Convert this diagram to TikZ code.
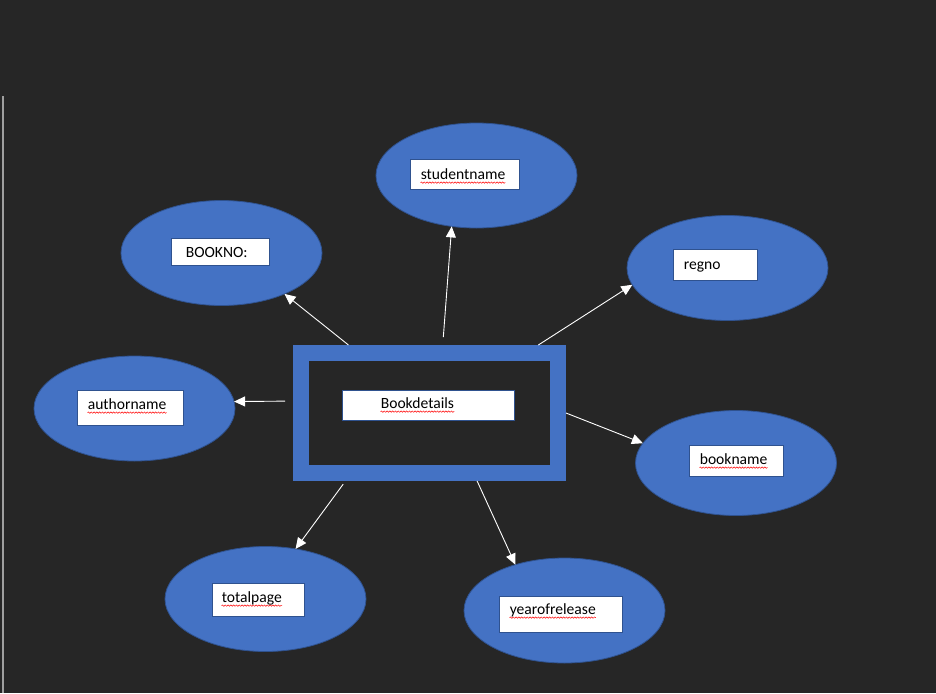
\documentclass[tikz,border=0pt]{standalone}
\usepackage{fontspec}
\setmainfont{Carlito}
\usepackage{tikz}
\usetikzlibrary{arrows.meta, shapes.geometric, decorations.pathmorphing}
\definecolor{bgdark}{HTML}{262626}
\definecolor{erblue}{HTML}{4472C4}
\definecolor{erline}{HTML}{2F528F}
\tikzstyle{attr}=[shape=ellipse, draw=erline, fill=erblue, line width=0.8pt, minimum width=201pt, minimum height=105pt, inner sep=0pt, outer sep=0pt]
\tikzstyle{tbox}=[shape=rectangle, draw=erline, fill=white, line width=0.8pt, inner sep=0pt]
\tikzstyle{txt}=[inner sep=0pt, anchor=base west, font=\fontsize{15.6}{18}\selectfont]
\tikzstyle{spell}=[red, line width=0.5pt, decorate, decoration={snake, amplitude=0.7pt, segment length=2.8pt}]
\tikzstyle{arr}=[->, white, line width=0.9pt]
\tikzset{>={Triangle[length=11pt, width=10pt]}}

\begin{document}
\begin{tikzpicture}[x=1pt, y=-1pt]
\fill[bgdark] (0,0) rectangle (936,693);
\draw[gray!75, line width=1.5pt] (3,96) -- (3,693);

\node[draw=erblue, line width=16pt, outer sep=8pt, minimum width=257pt, minimum height=120pt, inner sep=0pt] (book) at (429.5,413) {};
\node[tbox, minimum width=172pt, minimum height=30pt] (bookdetails-box) at (428,405) {};
\node[txt] (bookdetails-txt) at ([xshift=39pt, yshift=-19pt]bookdetails-box.north west) {Bookdetails};

\node[attr] (studentname) at (476.5,175.5) {};
\node[attr] (bookno) at (221.5,253) {};
\node[attr] (regno) at (727.5,268) {};
\node[attr] (authorname) at (134.5,408.5) {};
\node[attr] (bookname) at (736,463) {};
\node[attr] (totalpage) at (265.5,599) {};
\node[attr] (yearofrelease) at (564.5,610.5) {};

\node[tbox, minimum width=109pt, minimum height=30pt] (studentname-box) at (464.5,174) {};
\node[tbox, minimum width=98pt, minimum height=27pt] (bookno-box) at (220,251.5) {};
\node[tbox, minimum width=84pt, minimum height=31pt] (regno-box) at (715,264.5) {};
\node[tbox, minimum width=106pt, minimum height=35pt] (authorname-box) at (130,407.5) {};
\node[tbox, minimum width=94pt, minimum height=31pt] (bookname-box) at (736,460.5) {};
\node[tbox, minimum width=92pt, minimum height=33pt] (totalpage-box) at (258,599.5) {};
\node[tbox, minimum width=123pt, minimum height=36pt] (yearofrelease-box) at (560.5,614) {};

\node[txt] (studentname-txt) at ([xshift=11pt, yshift=-21pt]studentname-box.north west) {studentname};
\node[txt] (bookno-txt) at ([xshift=15pt, yshift=-20pt]bookno-box.north west) {BOOKNO:};
\node[txt] (regno-txt) at ([xshift=11pt, yshift=-21pt]regno-box.north west) {regno};
\node[txt] (authorname-txt) at ([xshift=11pt, yshift=-20pt]authorname-box.north west) {authorname};
\node[txt] (bookname-txt) at ([xshift=11pt, yshift=-20pt]bookname-box.north west) {bookname};
\node[txt] (totalpage-txt) at ([xshift=10pt, yshift=-20pt]totalpage-box.north west) {totalpage};
\node[txt] (yearofrelease-txt) at ([xshift=11pt, yshift=-19pt]yearofrelease-box.north west) {yearofrelease};

% spelling marks
\draw[spell] ([yshift=-3pt]bookdetails-txt.base west) -- ([yshift=-3pt]bookdetails-txt.base east);
\draw[spell] ([yshift=-3pt]studentname-txt.base west) -- ([yshift=-3pt]studentname-txt.base east);
\draw[spell] ([yshift=-3pt]authorname-txt.base west) -- ([yshift=-3pt]authorname-txt.base east);
\draw[spell] ([yshift=-3pt]bookname-txt.base west) -- ([yshift=-3pt]bookname-txt.base east);
\draw[spell] ([yshift=-3pt]totalpage-txt.base west) -- ([yshift=-3pt]totalpage-txt.base east);
\draw[spell] ([yshift=-3pt]yearofrelease-txt.base west) -- ([yshift=-3pt]yearofrelease-txt.base east);

\draw[arr] (book.140) -- (bookno.-33);
\draw[arr, shorten <=8pt] (book.79) -- (studentname.244);
\draw[arr] (book.32) -- (regno.190);
\draw[arr, shorten <=8pt] (book.175) -- (authorname.4);
\draw[arr] (book.0) -- (bookname.168);
\draw[arr, shorten <=4pt] (book.219) -- (totalpage.59);
\draw[arr] (book.305) -- (yearofrelease.137);
\end{tikzpicture}
\end{document}
